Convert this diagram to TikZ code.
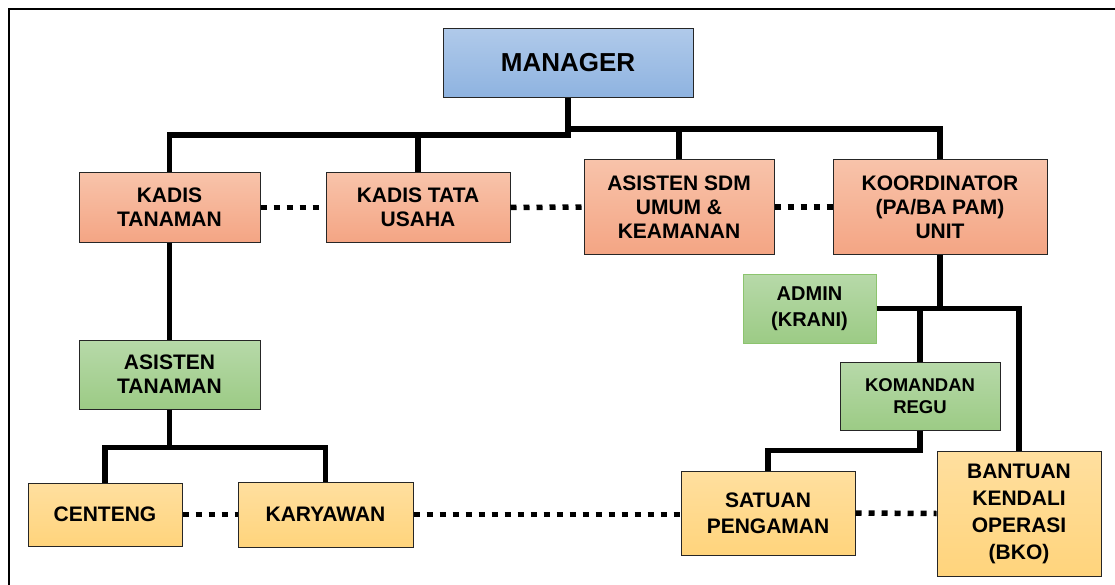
\documentclass[tikz,border=0pt]{standalone}
\usepackage{fontspec}
\setmainfont{Liberation Sans}
\usepackage{tikz}
\definecolor{bluetop}{HTML}{B0CAEA}
\definecolor{bluebot}{HTML}{8EB3E0}
\definecolor{saltop}{HTML}{F8C3AA}
\definecolor{salbot}{HTML}{F4A584}
\definecolor{grntop}{HTML}{B7D9A9}
\definecolor{grnbot}{HTML}{9CCB85}
\definecolor{ylwtop}{HTML}{FFDF9F}
\definecolor{ylwbot}{HTML}{FFD47C}
\definecolor{grnline}{HTML}{8CC46E}

\begin{document}
\begin{tikzpicture}[x=1pt,y=-1pt,
  box/.style={draw=black!85,line width=1pt,inner sep=0pt,align=center,
    font=\bfseries\fontsize{21}{24}\selectfont},
  head/.style={box,top color=bluetop,bottom color=bluebot},
  chief/.style={box,top color=saltop,bottom color=salbot},
  staff/.style={box,top color=grntop,bottom color=grnbot},
  crew/.style={box,top color=ylwtop,bottom color=ylwbot},
  link/.style={line width=5.5pt},
  peer/.style={line width=5.5pt,dash pattern=on 6pt off 7pt}]
  % Page size
  \useasboundingbox (0,0) rectangle (1115,585);
  %
  % Frame
  \draw[line width=2pt] (9,600) -- (9,9.5) -- (1130,9.5);
  %
  % Top level
  \node[head,minimum width=250pt,minimum height=69pt,
    font=\bfseries\fontsize{26}{30}\selectfont] (man) at (568,63) {MANAGER};
  %
  % Heads of section
  \node[chief,minimum width=181pt,minimum height=69pt] (kt) at (169.5,207.5) {KADIS\\TANAMAN};
  \node[chief,minimum width=184pt,minimum height=69pt] (tu) at (418,207.5) {KADIS TATA\\USAHA};
  \node[chief,minimum width=190pt,minimum height=94pt] (sdm) at (679,207) {ASISTEN SDM\\UMUM \&\\KEAMANAN};
  \node[chief,minimum width=214pt,minimum height=94pt] (ko) at (940,207) {KOORDINATOR\\(PA/BA PAM)\\UNIT};
  %
  % Assistants
  \node[staff,minimum width=181pt,minimum height=69pt] (at) at (169.5,374.5) {ASISTEN\\TANAMAN};
  \node[staff,draw=grnline,minimum width=133pt,minimum height=69pt,
    font=\bfseries\fontsize{20}{26}\selectfont] (ad) at (809.5,308.5) {ADMIN\\(KRANI)};
  \node[staff,minimum width=160pt,minimum height=68pt,
    font=\bfseries\fontsize{18.5}{22}\selectfont] (km) at (920,396) {KOMANDAN\\REGU};
  %
  % Workers
  \node[crew,minimum width=154pt,minimum height=63pt] (ce) at (105,514.5) {CENTENG};
  \node[crew,minimum width=175pt,minimum height=65pt] (ka) at (325.5,514.5) {KARYAWAN};
  \node[crew,minimum width=174pt,minimum height=84pt,
    font=\bfseries\fontsize{21}{26}\selectfont] (sp) at (768,513) {SATUAN\\PENGAMAN};
  \node[crew,minimum width=164pt,minimum height=125pt,
    font=\bfseries\fontsize{21}{27}\selectfont] (bk) at (1019,513.5) {BANTUAN\\KENDALI\\OPERASI\\(BKO)};
  %
  % Lines of command
  \draw[link] (man.south) -- ++(0,37) -| (kt.north);
  \draw[link] (man.south) -- ++(0,31) -| (ko.north);
  \draw[link] (tu.north) -- ++(0,-39);
  \draw[link] (sdm.north) -- ++(0,-32);
  \draw[link] (kt.south) -- (at.north);
  \draw[link] (at.south) -- ++(0,38) -| (ce.north);
  \draw[link] (at.south) -- ++(0,38) -| (ka.north);
  \draw[link] (ko.south) -- ++(0,55);
  \draw[link] (ad.east) -| (bk.north);
  \draw[link] (km.north) -- ++(0,-54);
  \draw[link] (km.south) -- ++(0,20) -| (sp.north);
  %
  % Lines of coordination
  \draw[peer] (kt.east) -- (tu.west);
  \draw[peer] (tu.east) -- (sdm.west);
  \draw[peer] (sdm.east) -- (ko.west);
  \draw[peer] (ce.east) -- (ka.west);
  \draw[peer] (ka.east) -- (ka.east -| sp.west);
  \draw[peer] (sp.east) -- (bk.west);
  %
\end{tikzpicture}
\end{document}
